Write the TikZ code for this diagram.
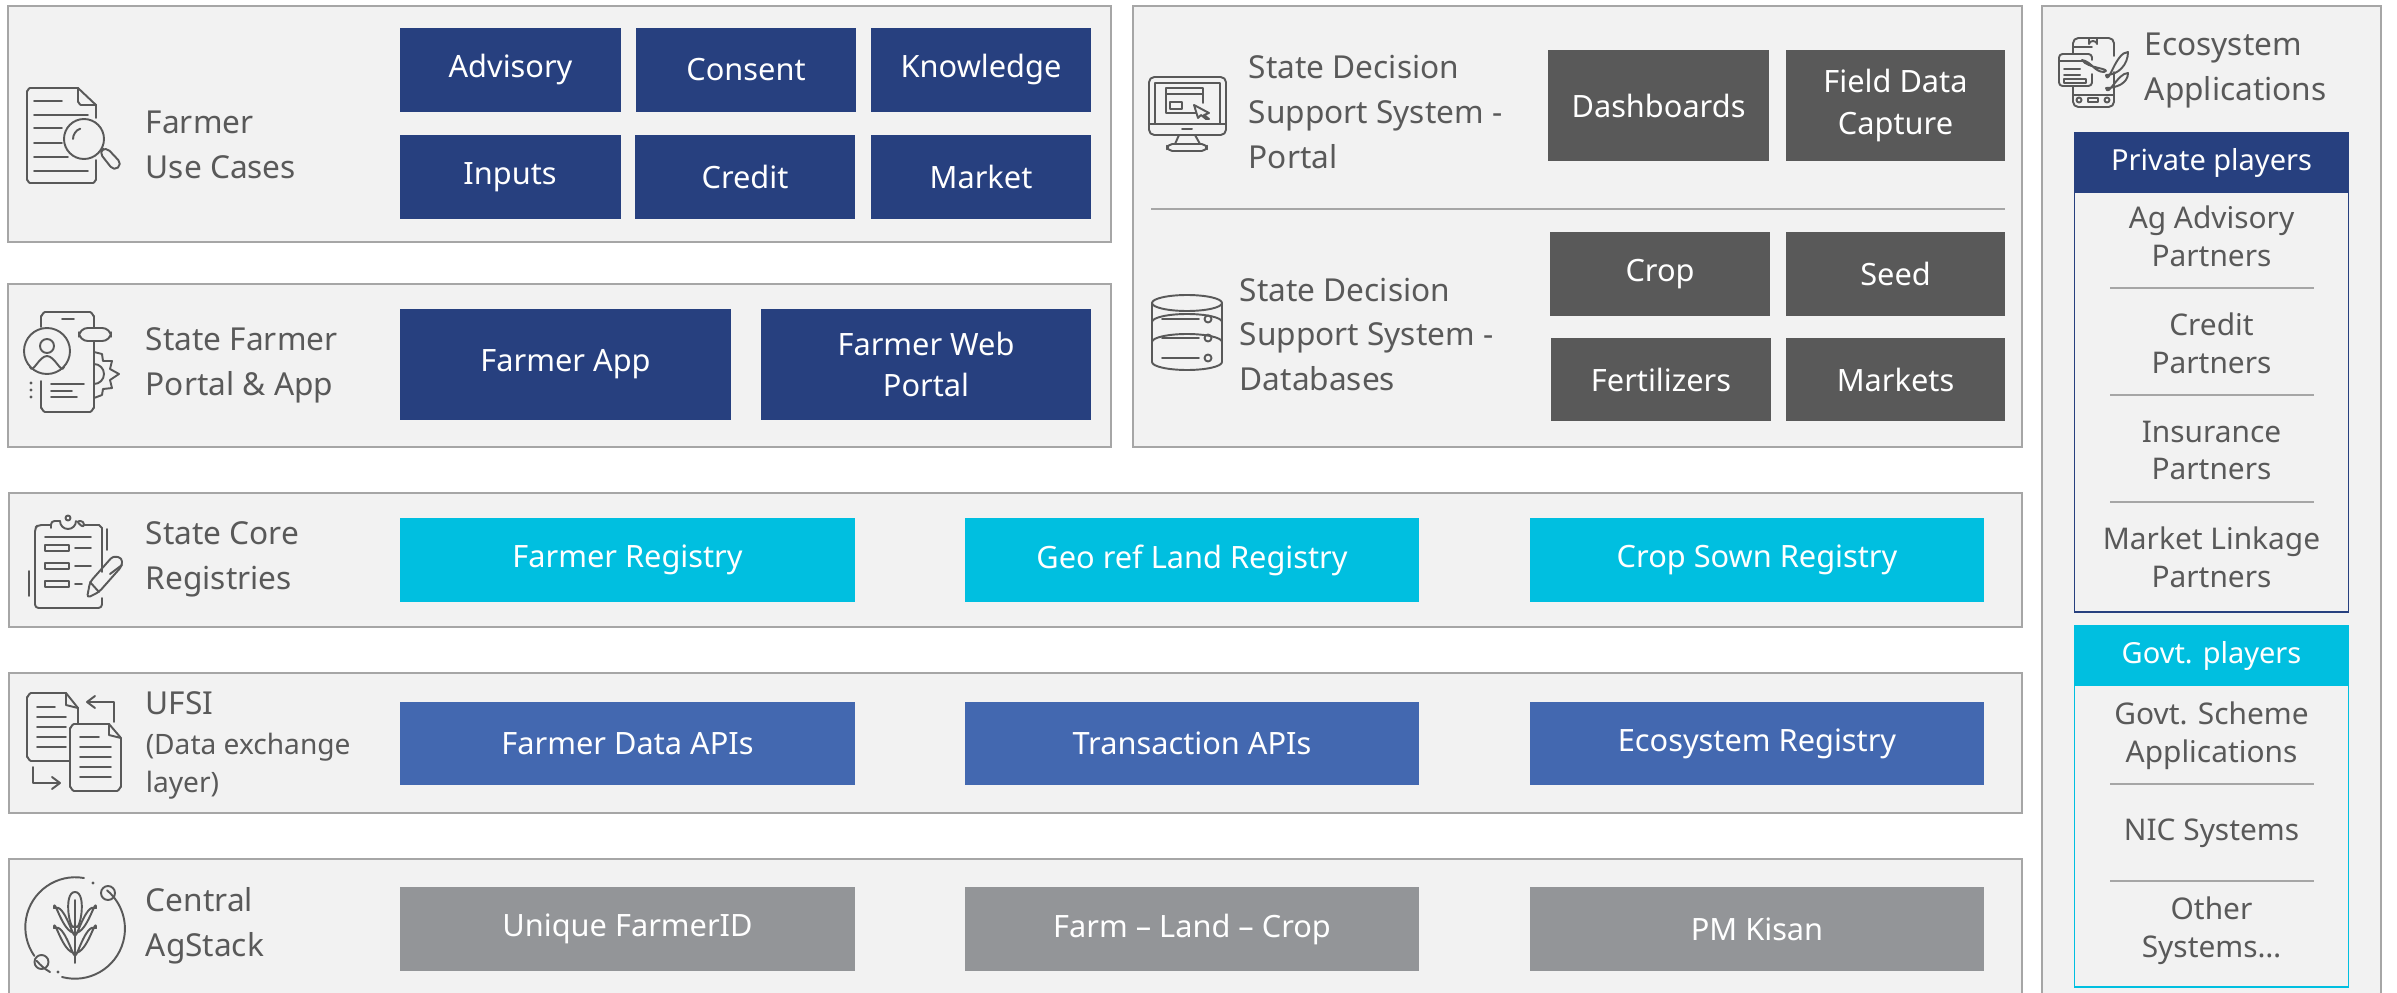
\documentclass[tikz,border=0pt]{standalone}
\usepackage{fontspec}
\setmainfont{Noto Sans}
\definecolor{navy}{HTML}{27407F}
\definecolor{cyanbox}{HTML}{00BFE0}
\definecolor{midblue}{HTML}{4368B0}
\definecolor{lightgrey}{HTML}{939598}
\definecolor{darkgrey}{HTML}{595959}
\definecolor{panelfill}{HTML}{F2F2F2}
\definecolor{panelline}{HTML}{A6A6A6}
\begin{document}
\begin{tikzpicture}[x=0.02cm,y=-0.02cm,line width=0.9pt,
panel/.style={draw=panelline,fill=panelfill,line width=1.3pt,inner sep=0},
box/.style={text=white,inner sep=0,align=center,font=\fontsize{17.5}{23.5}\selectfont},
lab/.style={text=darkgrey,inner sep=0,anchor=west,align=left,font=\fontsize{18}{25.5}\selectfont\bfseries},
lab1/.style={text=darkgrey,inner sep=0,anchor=west,align=left,font=\fontsize{16}{21.5}\selectfont\bfseries},
item/.style={text=darkgrey,inner sep=0,align=center,font=\fontsize{17}{21.5}\selectfont},
head/.style={text=white,inner sep=0,font=\fontsize{16.5}{20}\selectfont\bfseries},
icon/.style={draw=darkgrey,line width=1.1pt,line cap=round,line join=round},
rule/.style={draw=panelline,line width=1.1pt}]
\clip (0,0) rectangle (2397,993);
\fill[white] (0,0) rectangle (2397,993);
\foreach \nm/\xa/\ya/\xb/\yb in {pUse/8/6/1111/242,pPortal/8/284/1111/447,pCore/9/493/2022/627,pUfsi/9/673/2022/813,pCentral/9/859/2022/1010,pDss/1133/6/2022/447,pEco/2042/6/2381/1010}{
  \node[panel,minimum width=(\xb-\xa)*0.02cm,minimum height=(\yb-\ya)*0.02cm] (\nm) at ({(\xa+\xb)/2},{(\ya+\yb)/2}) {};};
\foreach \nm/\cx/\cy/\w/\h/\col/\txt in {
  bAdvisory/510.5/70/221/84/navy/Advisory,bConsent/746/70/220/84/navy/Consent,bKnowledge/981/70/220/84/navy/Knowledge,
  bInputs/510/177/221/84/navy/Inputs,bCredit/745/177/220/84/navy/Credit,bMarket/981/177/220/84/navy/Market,
  bApp/565.5/364.5/331/111/navy/Farmer App,bWeb/926/364.5/330/111/navy/{Farmer Web\\Portal},
  bFarmerReg/627.5/560/455/84/cyanbox/Farmer Registry,bLandReg/1192/560/454/84/cyanbox/Geo ref Land Registry,bCropReg/1757/560/454/84/cyanbox/Crop Sown Registry,
  bDataApi/627.5/743.5/455/83/midblue/Farmer Data APIs,bTxnApi/1192/743.5/454/83/midblue/Transaction APIs,bEcoReg/1757/743.5/454/83/midblue/Ecosystem Registry,
  bFarmerId/627.5/929/455/84/lightgrey/Unique FarmerID,bFarmLand/1192/929/454/84/lightgrey/Farm – Land – Crop,bKisan/1757/929/454/84/lightgrey/PM Kisan,
  bDash/1658.5/105.5/221/111/darkgrey/Dashboards,bField/1895.5/105.5/219/111/darkgrey/{Field Data\\Capture},
  bCrop/1660/274/220/84/darkgrey/Crop,bSeed/1895.5/274/219/84/darkgrey/Seed,
  bFert/1661/379.5/220/83/darkgrey/Fertilizers,bMarkets/1895.5/379.5/219/83/darkgrey/Markets}{
  \node[box,fill=\col,minimum width=\w*0.02cm,minimum height=\h*0.02cm] (\nm) at (\cx,\cy) {\txt};};
\node[lab] (lUse) at (145,144.5) {Farmer\\Use Cases};
\node[lab] (lPortal) at (145,365) {State Farmer\\Portal \& App};
\node[lab] (lCore) at (145,559.5) {State Core\\Registries};
\node[lab] (lUfsi) at (145,703) {UFSI};
\node[lab1] (lExchange) at (145,766) {(Data exchange\\layer)};
\node[lab] (lCentral) at (145,925.5) {Central\\AgStack};
\node[lab] (lDssPortal) at (1248,112) {State Decision\\Support System -\\Portal};
\node[lab] (lDssData) at (1239,334.5) {State Decision\\Support System -\\Databases};
\node[lab] (lEco) at (2144,70.5) {Ecosystem\\Applications};
\draw[rule] (1151,209) -- (2005,209);
\node[draw=navy,line width=1.1pt,minimum width=274*0.02cm,minimum height=479*0.02cm,inner sep=0] (gPrivate) at (2211.5,372.5) {};
\node[draw=cyanbox,line width=1.1pt,minimum width=274*0.02cm,minimum height=361*0.02cm,inner sep=0] (gGovt) at (2211.5,806.5) {};
\node[head,fill=navy,minimum width=275*0.02cm,minimum height=60*0.02cm] (hPrivate) at (2211.5,163) {Private players};
\node[head,fill=cyanbox,minimum width=275*0.02cm,minimum height=60*0.02cm] (hGovt) at (2211.5,656) {Govt. players};
\foreach \nm/\cy/\txt in {iAdvisory/236/{Ag Advisory\\Partners},iCredit/343/{Credit\\Partners},iInsurance/450.5/{Insurance\\Partners},iLinkage/557/{Market Linkage\\Partners},iScheme/736/{Govt. Scheme\\Applications},iNic/833/{NIC Systems},iOther/931/{Other\\Systems…}}{
  \node[item] (\nm) at (2211.5,\cy) {\txt};};
\foreach \y in {288,395,502,784,881}{\draw[rule] (2110,\y) -- (2314,\y);};
% farmer use cases
\draw[icon] (96,118) -- (96,105) -- (78,88) -- (30,88) to[out=180,in=-90] (27,91) -- (27,180) to[out=90,in=180] (30,183) -- (93,183) to[out=0,in=90] (96,180) -- (96,160);
\draw[icon] (78,88) -- (78,102) to[out=90,in=180] (81,105) -- (96,105);
\foreach \xb/\y in {62/101,88/115,62/128,62/143,68/157,88/171}{\draw[icon] (34,\y) -- (\xb,\y);};
\draw[icon] (84,139) circle (20);
\draw[icon] (73,139) arc (180:250:11);
\draw[icon,rounded corners=3pt] (99,152) -- (106,147) -- (122,164) -- (114,171) -- cycle;
% farmer portal and app
\draw[icon] (41,327) -- (41,316) to[out=-90,in=180] (45,312) -- (90,312) to[out=0,in=-90] (94,316) -- (94,327);
\draw[icon] (94,342) -- (94,408) to[out=90,in=0] (90,412) -- (45,412) to[out=180,in=90] (41,408) -- (41,381);
\draw[icon] (62,319) -- (74,319);
\draw[icon] (47,351) circle (23);
\draw[icon] (47,346) circle (7);
\draw[icon] (30,367) to[out=-70,in=180] (47,356) to[out=0,in=-110] (64,367);
\draw[icon,rounded corners=5pt] (79,328) rectangle (111,341);
\draw[icon] (94,352) -- (102,354) -- (103,361) -- (112,361) -- (110,369) -- (119,374) -- (110,380) -- (112,388) -- (103,389) -- (102,395) -- (94,398);
\draw[icon] (94,364) arc (-90:90:10);
\draw[icon] (51,384) -- (84,384) (51,391) -- (72,391) (51,397) -- (77,397);
\foreach \y in {383,390,397}{\fill[darkgrey] (31,\y) circle (1.6);};
% core registries
\draw[icon,rounded corners=2pt] (51,525) -- (38,525) -- (35,528) -- (35,608) -- (102,608) -- (102,598);
\draw[icon] (84,525) -- (99,525) -- (102,528) -- (102,572);
\draw[icon,rounded corners=2pt] (51,528) -- (51,521) -- (60,521) (76,521) -- (84,521) -- (84,528) -- cycle;
\draw[icon] (60,521) arc (180:0:8);
\draw[icon] (68,518) circle (2.5);
\draw[icon] (45,537) -- (91,537) (107,529) -- (107,550) (29,571) -- (29,596);
\foreach \y in {548,566,584}{\draw[icon] (45,\y-3) rectangle (69,\y+3);};
\draw[icon] (75,548) -- (91,548) (75,566) -- (91,566) (75,584) -- (82,584);
\draw[icon,rounded corners=2pt] (87,598) -- (90,582) -- (113,556) -- (122,558) -- (122,566) -- (99,592) -- cycle;
\draw[icon] (90,582) -- (99,592) (110,574) -- (122,565);
% ufsi
\draw[icon] (78,724) -- (78,708) -- (66,693) -- (31,693) to[out=180,in=-90] (27,697) -- (27,757) to[out=90,in=180] (31,761) -- (70,761);
\draw[icon] (66,693) -- (66,705) -- (78,708);
\foreach \xb/\y in {55/707,66/717,66/727,66/737,66/747}{\draw[icon] (37,\y) -- (\xb,\y);};
\draw[icon] (121,738) -- (109,724) -- (74,724) to[out=180,in=-90] (70,728) -- (70,787) to[out=90,in=180] (74,791) -- (117,791) to[out=0,in=90] (121,787) -- (121,738);
\draw[icon] (109,724) -- (109,735) -- (121,738);
\foreach \xb/\y in {99/737,111/747,111/757,111/767,111/777}{\draw[icon] (80,\y) -- (\xb,\y);};
\draw[icon] (114,722) -- (114,702) -- (87,702) (95,696) -- (87,702) -- (95,708);
\draw[icon] (33,767) -- (33,783) -- (60,783) (52,777) -- (60,783) -- (52,789);
% central agstack
\draw[icon] (84,878) arc (-80:-215:50) (50,972) arc (120:140:50);
\draw[icon] (62,977) arc (105:-50:50);
\draw[icon] (41.5,962) circle (7) (108,893) circle (7);
\fill[darkgrey] (93,883) circle (1.6) (58,972) circle (1.6);
\draw[icon] (75,900) -- (75,963);
\draw[icon] (75,892) to[out=0,in=-70] (75,925) to[out=-110,in=180] (75,892);
\foreach \cy in {920,940}{\draw[icon] (75,\cy+13) to[out=180,in=90] (54,\cy-12) to[out=30,in=-90] (75,\cy+13);
  \draw[icon] (75,\cy+13) to[out=0,in=90] (96,\cy-12) to[out=150,in=-90] (75,\cy+13);};
% dss portal
\draw[icon,rounded corners=3pt] (1149,77) rectangle (1226,135);
\draw[icon] (1155,124) -- (1155,83) -- (1220,83) -- (1220,124) (1149,124) -- (1226,124) (1182,129) -- (1192,129);
\draw[icon] (1196,113) -- (1166,113) -- (1166,88) -- (1203,88) -- (1203,103) (1166,94) -- (1203,94);
\draw[icon] (1170,102) rectangle (1182,109);
\draw[icon] (1194,105) -- (1209,113) -- (1204,115) -- (1209,119) -- (1206,119) -- (1201,115) -- (1198,118) -- cycle;
\draw[icon] (1179,135) -- (1175,144) (1195,135) -- (1200,144);
\draw[icon,rounded corners=3pt] (1167,144) rectangle (1207,151);
% dss databases
\draw[icon] (1187,303) ellipse (35 and 8);
\draw[icon] (1152,303) -- (1152,362) arc (180:90:35 and 8) -- (1187,370) arc (90:0:35 and 8) -- (1222,303);
\draw[icon] (1152,322) arc (180:0:35 and -8) (1152,342) arc (180:0:35 and -8);
\foreach \y in {319,338,358}{\draw[icon] (1162,\y) -- (1199,\y) (1208,\y) circle (3.5);};
% ecosystem
\draw[icon,rounded corners=3pt] (2073,54) -- (2073,38) -- (2114,38) -- (2114,56);
\draw[icon,rounded corners=3pt] (2114,72) -- (2114,107) -- (2073,107) -- (2073,86);
\draw[icon] (2073,47) -- (2092,47) (2073,95) -- (2114,95) (2089,38) -- (2089,44) arc (180:0:4 and -3) -- (2097,38);
\draw[icon,rounded corners=2pt] (2092,60) -- (2092,54) -- (2059,54) -- (2059,86) -- (2092,86) -- (2092,74);
\draw[icon] (2059,61) -- (2083,61) (2064,69) -- (2080,69) (2064,75) -- (2080,75) (2064,79) rectangle (2086,83);
\draw[icon] (2079,100) circle (2.5) (2107,100) circle (2.5) (2088,98) rectangle (2098,102);
\draw[icon] (2082,60) to[out=-10,in=180] (2104,72) to[out=20,in=-60] (2082,60);
\draw[icon] (2106,75) to[out=-80,in=180] (2128,52) to[out=-90,in=0] (2106,75);
\draw[icon] (2106,88) to[out=-80,in=180] (2128,73) to[out=-90,in=0] (2106,88);
\end{tikzpicture}
\end{document}
